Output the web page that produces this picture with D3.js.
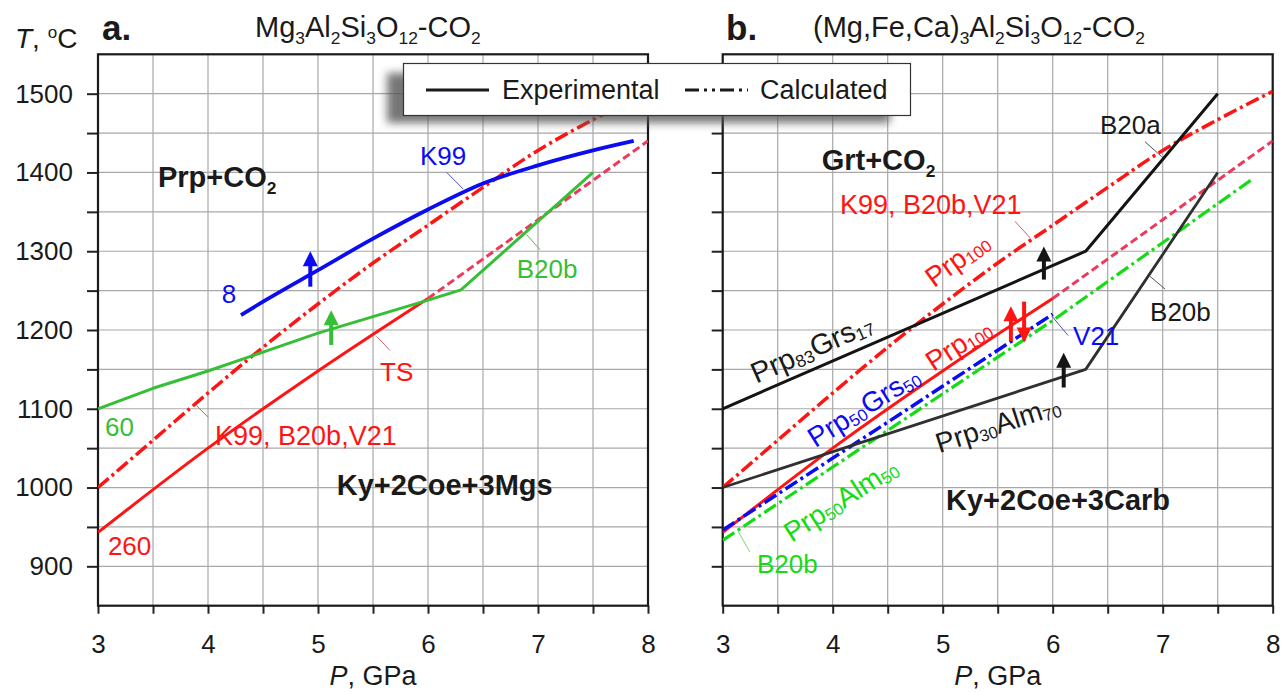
<!DOCTYPE html>
<html>
<head>
<meta charset="utf-8">
<script src="https://cdn.jsdelivr.net/npm/d3@7"></script>
<style>
  html, body { margin: 0; padding: 0; background: #fff; }
  svg { display: block; font-family: "Liberation Sans", Arial, Helvetica, sans-serif; }
</style>
</head>
<body>
<svg id="chart" width="1281" height="692"></svg>
<script>
// ---- axis ticks ----
const pTicks = [3, 3.5, 4, 4.5, 5, 5.5, 6, 6.5, 7, 7.5, 8];
const tTicks = [900, 950, 1000, 1050, 1100, 1150, 1200, 1250, 1300, 1350, 1400, 1450, 1500];
const pLabels = [3, 4, 5, 6, 7, 8];
const tLabels = [900, 1000, 1100, 1200, 1300, 1400, 1500];

// ---- panel a: Mg3Al2Si3O12-CO2 ----
const k99Exp = [[4.3, 1219], [4.5, 1236], [5, 1276], [5.5, 1316], [6, 1353], [6.5, 1386], [7, 1409], [7.5, 1428], [7.87, 1440]];
const b20bExpA = [[3, 1100], [3.5, 1126], [4, 1148], [4.5, 1172], [5, 1196], [5.5, 1217], [6, 1238], [6.3, 1251], [7.5, 1400]];
const prp100Calc = [[3, 1000], [3.5, 1060], [4, 1120], [4.5, 1178], [5, 1233], [5.5, 1285], [6, 1333], [6.5, 1381], [7, 1428], [7.5, 1467], [8, 1503]];
const tsSolid = [[3, 943], [4, 1050], [5, 1148], [6, 1240]];
const tsDashed = [[6, 1240], [7, 1340], [8, 1440]];

// ---- panel b: (Mg,Fe,Ca)3Al2Si3O12-CO2 ----
const prp83Grs17 = [[3, 1100], [6.3, 1300], [7.5, 1500]];
const prp30Alm70 = [[3, 1000], [6.3, 1150], [7.5, 1400]];
const prp50Grs50Calc = [[3, 946], [6, 1220]];
const prp50Alm50Calc = [[3, 933], [6, 1212], [7.8, 1390]];

// arrows: [P, T from, T to]
const arrowsA = [
  { p: 4.93, t0: 1255, t1: 1300, c: "blue" },
  { p: 5.12, t0: 1181, t1: 1225, c: "green" }
];
const arrowsB = [
  { p: 5.92, t0: 1264, t1: 1306, c: "black" },
  { p: 6.10, t0: 1127, t1: 1171, c: "black" },
  { p: 5.62, t0: 1186, t1: 1230, c: "red" },
  { p: 5.74, t0: 1236, t1: 1184, c: "red" }
];

const COL = {
  red: "#ff1414", pink: "#ec3a5c", blue: "#0c0cf0", green: "#36bf36",
  green2: "#14dc14", black: "#141414", grey: "#303030"
};
const FONT = '"Liberation Sans", Arial, Helvetica, sans-serif';

const svg = d3.select("#chart");
svg.append("rect").attr("width", 1281).attr("height", 692).attr("fill", "#fff");

const y = d3.scaleLinear().domain([850, 1550]).range([605.7, 54.3]);
const xa = d3.scaleLinear().domain([3, 8]).range([98, 648]);
const xb = d3.scaleLinear().domain([3, 8]).range([722.7, 1272.7]);

// rich text with sub/superscripts
function rich(sel, parts, size) {
  let cur = 0;
  parts.forEach(([t, kind]) => {
    const target = kind === "sub" ? size * 0.24 : kind === "sup" ? -size * 0.36 : 0;
    const ts = sel.append("tspan").text(t).attr("dy", target - cur);
    if (kind) ts.attr("font-size", size * 0.6);
    cur = target;
  });
  return sel;
}

function panel(x, opts) {
  const g = svg.append("g");
  const [x0, x1] = x.range();
  const [yb, yt] = y.range();

  // grid
  const grid = g.append("g").attr("stroke", "#a8a8a8").attr("stroke-width", 1.2);
  grid.selectAll("line.v").data(pTicks).join("line")
    .attr("x1", d => x(d)).attr("x2", d => x(d)).attr("y1", yt).attr("y2", yb);
  grid.selectAll("line.h").data(tTicks).join("line")
    .attr("y1", d => y(d)).attr("y2", d => y(d)).attr("x1", x0).attr("x2", x1);

  // axes
  const ax = d3.axisBottom(x).tickValues(pTicks).tickSize(8).tickPadding(21)
    .tickFormat(d => pLabels.includes(d) ? d3.format("d")(d) : "");
  const axG = g.append("g").attr("transform", `translate(0,${yb})`).call(ax);
  const ay = d3.axisLeft(y).tickValues(tTicks).tickSize(11).tickPadding(14)
    .tickFormat(d => opts.yLabels && tLabels.includes(d) ? d3.format("d")(d) : "");
  const ayG = g.append("g").attr("transform", `translate(${x0},0)`).call(ay);
  [axG, ayG].forEach(a => {
    a.select(".domain").remove();
    a.selectAll(".tick line").attr("stroke", "#222").attr("stroke-width", 2);
    a.selectAll("text").attr("font-size", 26).attr("font-family", FONT).attr("fill", "#1a1a1a");
  });

  // frame
  g.append("rect").attr("x", x0).attr("y", yt).attr("width", x1 - x0).attr("height", yb - yt)
    .attr("fill", "none").attr("stroke", "#1a1a1a").attr("stroke-width", 2.2);

  // axis title
  const xt = g.append("text").attr("x", (x0 + x1) / 2).attr("y", 685).attr("text-anchor", "middle")
    .attr("font-size", 27).attr("fill", "#1a1a1a");
  xt.append("tspan").attr("font-style", "italic").text("P");
  xt.append("tspan").text(", GPa");

  const clipId = "clip" + opts.id;
  svg.append("clipPath").attr("id", clipId).append("rect")
    .attr("x", x0).attr("y", yt).attr("width", x1 - x0).attr("height", yb - yt);
  const plot = g.append("g").attr("clip-path", `url(#${clipId})`);
  return { g, plot, x };
}

function drawLine(P, data, color, width, dash, curve) {
  const line = d3.line().x(d => P.x(d[0])).y(d => y(d[1])).curve(curve || d3.curveLinear);
  P.plot.append("path").datum(data).attr("d", line)
    .attr("fill", "none").attr("stroke", color).attr("stroke-width", width)
    .attr("stroke-linejoin", "round").attr("stroke-dasharray", dash || null);
}

function drawArrow(P, a) {
  const c = COL[a.c];
  const xp = P.x(a.p), ys = y(a.t0), ye = y(a.t1);
  const dir = ye < ys ? -1 : 1;
  const head = 15, hw = 7.5;
  P.plot.append("line").attr("x1", xp).attr("x2", xp).attr("y1", ys).attr("y2", ye - dir * head + dir * 2)
    .attr("stroke", c).attr("stroke-width", 4);
  P.plot.append("path")
    .attr("d", `M${xp},${ye} L${xp - hw},${ye - dir * head} L${xp + hw},${ye - dir * head} Z`)
    .attr("fill", c);
}

function label(P, p, t, parts, opt) {
  const size = opt.size || 26;
  const txt = P.g.append("text").attr("x", P.x(p)).attr("y", y(t))
    .attr("font-size", size).attr("fill", opt.color || "#1a1a1a")
    .attr("font-weight", opt.bold ? "bold" : null)
    .attr("text-anchor", opt.anchor || "start");
  if (opt.rot !== undefined) {
    txt.attr("dominant-baseline", "central")
      .attr("transform", `rotate(${opt.rot},${P.x(p)},${y(t)})`);
  }
  rich(txt, parts, size);
  return txt;
}

function leader(P, p0, t0, p1, t1, color) {
  P.g.append("line").attr("x1", P.x(p0)).attr("y1", y(t0)).attr("x2", P.x(p1)).attr("y2", y(t1))
    .attr("stroke", color).attr("stroke-width", 1);
}

const DASHDOT = "14,4,3,4";
const DASHED = "8,4";

// ================= panel a =================
const A = panel(xa, { id: "a", yLabels: true });
drawLine(A, prp100Calc, COL.red, 3.5, DASHDOT, d3.curveMonotoneX);
drawLine(A, tsSolid, COL.red, 3, null, d3.curveMonotoneX);
drawLine(A, tsDashed, COL.pink, 3, DASHED);
drawLine(A, b20bExpA, COL.green, 3);
drawLine(A, k99Exp, COL.blue, 3.8, null, d3.curveMonotoneX);
arrowsA.forEach(a => drawArrow(A, a));

label(A, 3.545, 1382, [["Prp+CO"], ["2", "sub"]], { bold: true, size: 29 });
label(A, 5.17, 990, [["Ky+2Coe+3Mgs"]], { bold: true, size: 29 });
label(A, 5.927, 1410, [["K99"]], { color: COL.blue });
leader(A, 6.17, 1400, 6.32, 1379, "#5050c0");
label(A, 4.125, 1234, [["8"]], { color: COL.blue });
label(A, 6.806, 1266, [["B20b"]], { color: COL.green });
leader(A, 6.897, 1321, 7.018, 1302, "#60b060");
label(A, 5.564, 1135, [["TS"]], { color: COL.red });
leader(A, 5.533, 1192, 5.655, 1174, "#d06070");
label(A, 3.064, 1066, [["60"]], { color: COL.green });
label(A, 4.064, 1054, [["K99, B20b,V21"]], { color: COL.red, size: 27 });
leader(A, 3.897, 1104, 4.003, 1089, "#d06070");
label(A, 3.09, 914, [["260"]], { color: COL.red });

// ================= panel b =================
const B = panel(xb, { id: "b", yLabels: false });
drawLine(B, prp100Calc, COL.red, 3.5, DASHDOT, d3.curveMonotoneX);
drawLine(B, tsDashed, COL.pink, 3, DASHED);
drawLine(B, prp50Alm50Calc, COL.green2, 3.2, DASHDOT);
drawLine(B, tsSolid, COL.red, 3, null, d3.curveMonotoneX);
drawLine(B, prp50Grs50Calc, COL.blue, 3.5, DASHDOT);
drawLine(B, prp83Grs17, COL.black, 3);
drawLine(B, prp30Alm70, COL.grey, 2.8);
arrowsB.forEach(a => drawArrow(B, a));

label(B, 3.9, 1403, [["Grt+CO"], ["2", "sub"]], { bold: true, size: 29 });
label(B, 5.03, 972, [["Ky+2Coe+3Carb"]], { bold: true, size: 29 });
label(B, 4.066, 1347, [["K99, B20b,V21"]], { color: COL.red, size: 27 });
leader(B, 5.657, 1338, 5.794, 1317, "#d06070");
label(B, 6.43, 1449, [["B20a"]], {});
leader(B, 6.839, 1439, 6.991, 1420, "#555");
label(B, 6.885, 1211, [["B20b"]], {});
leader(B, 6.885, 1268, 7.021, 1252, "#555");
label(B, 6.185, 1181, [["V21"]], { color: COL.blue });
leader(B, 5.99, 1218, 6.14, 1193, "#5050c0");
label(B, 3.312, 892, [["B20b"]], { color: COL.green2 });
leader(B, 3.142, 944, 3.248, 918, "#80d080");

label(B, 3.81, 1177, [["Prp"], ["83", "sub"], ["Grs"], ["17", "sub"]], { anchor: "middle", rot: -24, size: 29 });
label(B, 5.13, 1290, [["Prp"], ["100", "sub"]], { anchor: "middle", rot: -36, size: 28, color: COL.red });
label(B, 5.14, 1182, [["Prp"], ["100", "sub"]], { anchor: "middle", rot: -33, size: 28, color: COL.red });
label(B, 4.28, 1103, [["Prp"], ["50", "sub"], ["Grs"], ["50", "sub"]], { anchor: "middle", rot: -32, size: 28, color: COL.blue });
label(B, 5.5, 1081, [["Prp"], ["30", "sub"], ["Alm"], ["70", "sub"]], { anchor: "middle", rot: -18, size: 28 });
label(B, 4.07, 985, [["Prp"], ["50", "sub"], ["Alm"], ["50", "sub"]], { anchor: "middle", rot: -33, size: 28, color: COL.green2 });

// ================= titles =================
svg.append("text").attr("x", 102).attr("y", 40).attr("font-size", 35).attr("font-weight", "bold")
  .attr("fill", "#1a1a1a").text("a.");
svg.append("text").attr("x", 726).attr("y", 40).attr("font-size", 35).attr("font-weight", "bold")
  .attr("fill", "#1a1a1a").text("b.");
rich(svg.append("text").attr("x", 255).attr("y", 37).attr("font-size", 29).attr("fill", "#1a1a1a"),
  [["Mg"], ["3", "sub"], ["Al"], ["2", "sub"], ["Si"], ["3", "sub"], ["O"], ["12", "sub"], ["-CO"], ["2", "sub"]], 29);
rich(svg.append("text").attr("x", 813).attr("y", 37).attr("font-size", 29).attr("fill", "#1a1a1a"),
  [["(Mg,Fe,Ca)"], ["3", "sub"], ["Al"], ["2", "sub"], ["Si"], ["3", "sub"], ["O"], ["12", "sub"], ["-CO"], ["2", "sub"]], 29);

// y axis title
const yt = svg.append("text").attr("x", 15).attr("y", 48).attr("font-size", 28).attr("fill", "#1a1a1a");
yt.append("tspan").attr("font-style", "italic").text("T");
yt.append("tspan").text(", ");
yt.append("tspan").attr("font-size", 17).attr("dy", -10).text("o");
yt.append("tspan").attr("dy", 10).text("C");

// ================= legend =================
const defs = svg.append("defs");
defs.append("filter").attr("id", "legShadow").attr("x", "-10%").attr("y", "-50%").attr("width", "120%").attr("height", "200%")
  .append("feGaussianBlur").attr("stdDeviation", 4);
const lg = svg.append("g");
lg.append("rect").attr("x", 387).attr("y", 73).attr("width", 503).attr("height", 50)
  .attr("fill", "#555").attr("opacity", 0.8).attr("filter", "url(#legShadow)");
lg.append("rect").attr("x", 403.5).attr("y", 63.5).attr("width", 507).attr("height", 52)
  .attr("fill", "#fff").attr("stroke", "#333").attr("stroke-width", 1.2);
lg.append("line").attr("x1", 426).attr("x2", 489).attr("y1", 90).attr("y2", 90)
  .attr("stroke", "#1a1a1a").attr("stroke-width", 3);
lg.append("text").attr("x", 502).attr("y", 99).attr("font-size", 27).attr("fill", "#1a1a1a").text("Experimental");
lg.append("line").attr("x1", 685).attr("x2", 748).attr("y1", 90).attr("y2", 90)
  .attr("stroke", "#1a1a1a").attr("stroke-width", 3).attr("stroke-dasharray", "14,5,3,5,3,5");
lg.append("text").attr("x", 760).attr("y", 99).attr("font-size", 27).attr("fill", "#1a1a1a").text("Calculated");
</script>
</body>
</html>
